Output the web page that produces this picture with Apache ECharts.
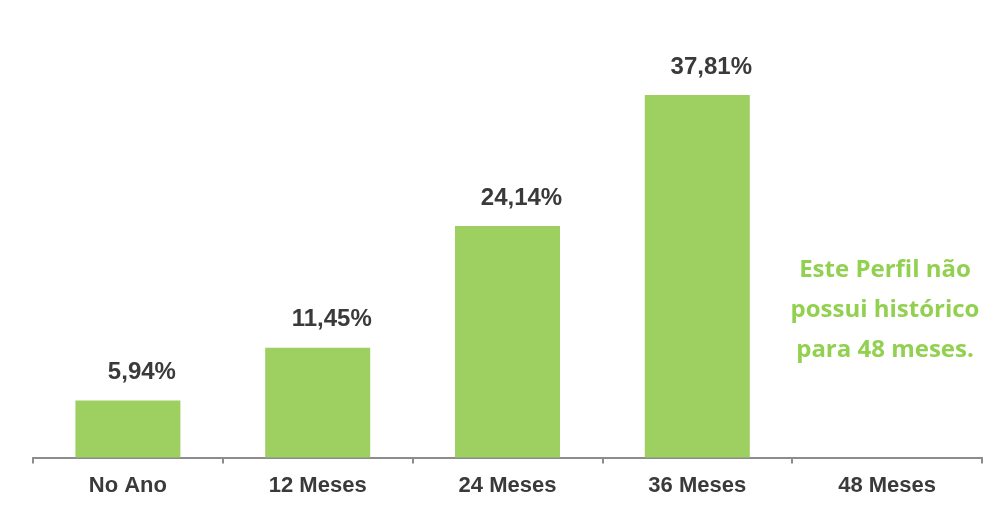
<!DOCTYPE html>
<html>
<head>
<meta charset="utf-8">
<script src="https://cdn.jsdelivr.net/npm/echarts@6/dist/echarts.min.js"></script>
<style>html,body{margin:0;padding:0;background:#fff}#c{width:1004px;height:515px}</style>
</head>
<body>
<div id="c"></div>
<script>
const categories = ['No Ano', '12 Meses', '24 Meses', '36 Meses', '48 Meses'];
const values = [5.94, 11.45, 24.14, 37.81, null];
const noteLines = ['Este Perfil não', 'possui histórico', 'para 48 meses.'];

const chart = echarts.init(document.getElementById('c'));
chart.setOption({
  animation: false,
  grid: { left: 33, right: 22, top: 74, bottom: 57.5 },
  xAxis: {
    type: 'category',
    data: categories,
    axisLine: { lineStyle: { color: '#8c8c8c', width: 2 } },
    axisTick: { show: true, length: 6, lineStyle: { color: '#8c8c8c', width: 2 } },
    axisLabel: { margin: 17, color: '#3a3a3a', fontFamily: 'Liberation Sans, Arial, sans-serif', fontWeight: 'bold', fontSize: 22 }
  },
  yAxis: { type: 'value', min: 0, max: 40, show: false, splitLine: { show: false } },
  series: [{
    type: 'bar',
    data: values,
    barWidth: 105,
    itemStyle: { color: '#9dcf61' },
    label: {
      show: true,
      position: 'top',
      distance: 16,
      offset: [14, 0],
      color: '#3a3a3a',
      fontFamily: 'Liberation Sans, Arial, sans-serif',
      fontWeight: 'bold',
      fontSize: 24,
      formatter: p => p.value.toFixed(2).replace('.', ',') + '%'
    }
  }],
  graphic: [{
    type: 'text',
    x: 885,
    y: 250,
    style: {
      text: noteLines.join('\n'),
      align: 'center',
      verticalAlign: 'top',
      fill: '#92d050',
      font: 'bold 24px "Open Sans", sans-serif',
      lineHeight: 40
    }
  }]
});
</script>
</body>
</html>
